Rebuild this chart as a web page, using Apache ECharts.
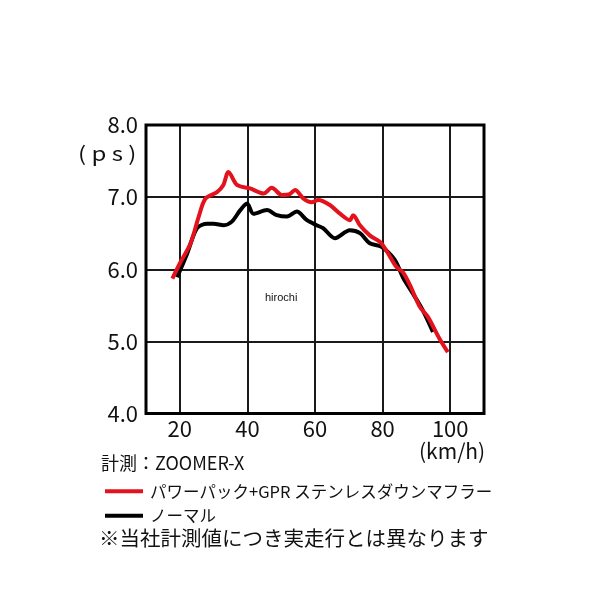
<!DOCTYPE html>
<html>
<head>
<meta charset="utf-8">
<script src="https://cdn.jsdelivr.net/npm/echarts@6/dist/echarts.min.js"></script>
<style>html,body{margin:0;padding:0;background:#fff}#c{width:600px;height:600px}</style>
</head>
<body>
<div id="c"></div>
<script>
const xTicks = [20, 40, 60, 80, 100];
const yTicks = [4, 5, 6, 7, 8];
const seriesNames = ['パワーパック+GPR ステンレスダウンマフラー', 'ノーマル'];
const redData = [
  [17.8,5.87],[20,6.08],[23.2,6.36],[25.6,6.73],[27.6,6.98],[31.0,7.07],[32.8,7.16],[34.4,7.35],
  [36.9,7.17],[40.8,7.12],[44.8,7.05],[47.2,7.13],[50.2,7.03],[52.5,7.04],[54.1,7.10],[56.6,6.98],
  [59.0,6.93],[61.0,6.96],[64.4,6.89],[67.4,6.77],[70.3,6.68],[71.3,6.75],[73.3,6.61],[76.2,6.47],
  [79.2,6.38],[81.1,6.26],[84.1,6.03],[86.0,5.96],[88.1,5.78],[91.0,5.48],[93.4,5.34],[96.8,5.04],[99.3,4.85]
];
const blackData = [
  [19.2,5.89],[22.2,6.22],[25.1,6.57],[28.1,6.63],[30.0,6.63],[33.0,6.61],[35.4,6.66],[37.9,6.82],
  [39.9,6.91],[41.8,6.77],[45.8,6.82],[48.7,6.75],[51.7,6.73],[54.6,6.80],[57.6,6.68],[60.5,6.61],
  [62.4,6.57],[65.9,6.43],[70.3,6.54],[73.3,6.50],[76.2,6.36],[79.7,6.31],[83.6,6.13],[86.0,5.89],
  [89.0,5.66],[91.9,5.43],[94.9,5.13]
];
const FONT = '"Noto Sans CJK JP", sans-serif';
const chart = echarts.init(document.getElementById('c'), null, {renderer: 'canvas'});
chart.setOption({
  backgroundColor: '#fff',
  animation: false,
  grid: {left: 146, right: 116, top: 125, bottom: 186.5, show: true, borderColor: '#000', borderWidth: 3, backgroundColor: 'transparent', z: 5},
  xAxis: {
    type: 'value', min: 10, max: 110,
    axisLine: {show: false}, axisTick: {show: false, customValues: xTicks},
    splitLine: {show: true, lineStyle: {color: '#1a1a1a', width: 2}},
    axisLabel: {customValues: xTicks, fontSize: 22, color: '#111', fontFamily: FONT, margin: 4}
  },
  yAxis: {
    type: 'value', min: 4, max: 8, interval: 1,
    axisLine: {show: false}, axisTick: {show: false},
    splitLine: {show: true, lineStyle: {color: '#1a1a1a', width: 2}},
    axisLabel: {fontSize: 22, color: '#111', fontFamily: FONT, margin: 8, formatter: v => v.toFixed(1)}
  },
  legend: {
    orient: 'vertical', left: 100, top: 478, itemGap: 8,
    itemWidth: 38, itemHeight: 4, icon: 'rect',
    textStyle: {fontSize: 16.5, color: '#111', fontFamily: FONT, padding: [0, 0, 0, 2]},
    data: seriesNames
  },
  graphic: [
    {type: 'text', left: 78, top: 143, scaleX: 1.2, style: {text: '( p s )', font: '20px ' + FONT, fill: '#111'}},
    {type: 'text', left: 419, top: 441, style: {text: '(km/h)', font: '21px ' + FONT, fill: '#111'}},
    {type: 'text', left: 101, top: 454, style: {text: '計測：ZOOMER-X', font: '18px ' + FONT, fill: '#111'}},
    {type: 'text', left: 99, top: 528, style: {text: '※当社計測値につき実走行とは異なります', font: '20.5px ' + FONT, fill: '#111'}},
    {type: 'text', left: 265, top: 292, style: {text: 'hirochi', font: '11px "Liberation Sans", Arial, sans-serif', fill: '#111'}}
  ],
  series: [
    {name: seriesNames[1], type: 'line', data: blackData, smooth: 0.3, showSymbol: false, z: 3,
     lineStyle: {color: '#000', width: 4}, itemStyle: {color: '#000'}},
    {name: seriesNames[0], type: 'line', data: redData, smooth: 0.3, showSymbol: false, z: 4,
     lineStyle: {color: '#e3121c', width: 4}, itemStyle: {color: '#e3121c'}}
  ]
});
</script>
</body>
</html>
